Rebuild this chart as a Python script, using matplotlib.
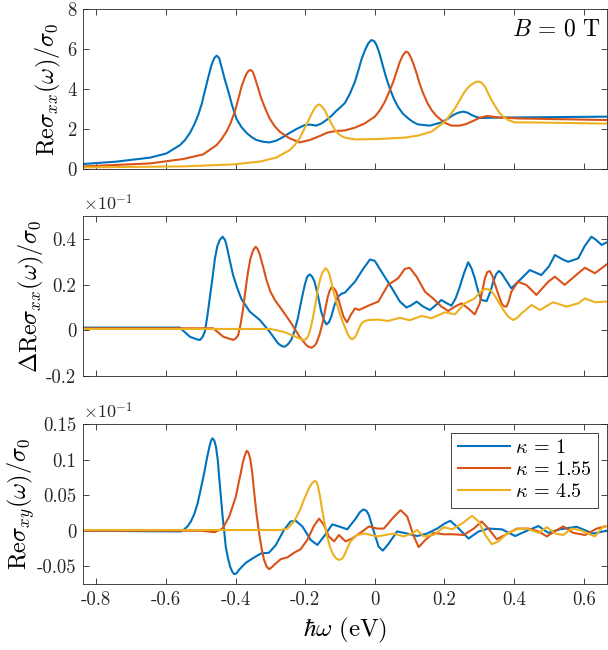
import matplotlib
matplotlib.use("Agg")
import matplotlib.pyplot as plt

plt.rcParams['mathtext.fontset'] = 'cm'
plt.rcParams['font.family'] = 'cmr10'
plt.rcParams['axes.unicode_minus'] = False

# MATLAB default colours
blue, red, yellow = '#0072BD', '#D95319', '#EDB120'
labels = [r'$\kappa\,=\,1$', r'$\kappa\,=\,1.55$', r'$\kappa\,=\,4.5$']

# ---- panel 1: Re sigma_xx / sigma_0 ----
xx_blue_x = [-0.837, -0.741, -0.645, -0.598, -0.559, -0.545, -0.531, -0.519, -0.507, -0.497,
             -0.488, -0.478, -0.469, -0.461, -0.454, -0.447, -0.440, -0.431, -0.421, -0.410,
             -0.397, -0.383, -0.368, -0.354, -0.340, -0.320, -0.302, -0.283, -0.263, -0.245,
             -0.225, -0.201, -0.185, -0.168, -0.153, -0.139, -0.125, -0.111, -0.098, -0.086,
             -0.072, -0.057, -0.047, -0.038, -0.028, -0.019, -0.010, -0.002, 0.005, 0.014,
             0.024, 0.033, 0.043, 0.055, 0.067, 0.080, 0.096, 0.110, 0.124, 0.158,
             0.191, 0.210, 0.225, 0.240, 0.254, 0.266, 0.278, 0.292, 0.306, 0.344, 0.666]
xx_blue_y = [0.25, 0.37, 0.57, 0.78, 1.2, 1.45, 1.8, 2.2, 2.7, 3.25,
             3.9, 4.6, 5.2, 5.55, 5.67, 5.55, 5.1, 4.5, 3.9, 3.2,
             2.5, 2.1, 1.8, 1.6, 1.45, 1.36, 1.33, 1.42, 1.6, 1.8,
             2.0, 2.2, 2.22, 2.17, 2.28, 2.45, 2.65, 2.9, 3.1, 3.3,
             3.75, 4.37, 4.95, 5.5, 5.95, 6.28, 6.45, 6.4, 6.2, 5.75,
             5.1, 4.55, 4.03, 3.5, 3.1, 2.78, 2.53, 2.35, 2.23, 2.17,
             2.33, 2.52, 2.7, 2.82, 2.87, 2.82, 2.7, 2.6, 2.55, 2.57, 2.62]

xx_red_x = [-0.837, -0.645, -0.550, -0.493, -0.454, -0.440, -0.426, -0.414, -0.402, -0.392,
            -0.383, -0.375, -0.368, -0.362, -0.356, -0.350, -0.345, -0.336, -0.326, -0.314,
            -0.302, -0.288, -0.273, -0.258, -0.244, -0.216, -0.187, -0.158, -0.135, -0.111,
            -0.086, -0.057, -0.029, 0.0, 0.015, 0.029, 0.041, 0.053, 0.063, 0.072,
            0.081, 0.089, 0.096, 0.103, 0.111, 0.120, 0.129, 0.139, 0.151, 0.163,
            0.177, 0.191, 0.205, 0.220, 0.244, 0.262, 0.278, 0.300, 0.321, 0.338,
            0.354, 0.411, 0.666]
xx_red_y = [0.13, 0.28, 0.5, 0.73, 1.2, 1.5, 1.87, 2.3, 2.87, 3.5,
            4.1, 4.5, 4.78, 4.92, 4.95, 4.85, 4.6, 4.1, 3.53, 3.0,
            2.53, 2.15, 1.87, 1.68, 1.53, 1.33, 1.45, 1.65, 1.83, 1.9,
            1.93, 2.07, 2.28, 2.62, 2.95, 3.37, 3.85, 4.37, 4.9, 5.37,
            5.7, 5.87, 5.82, 5.6, 5.25, 4.78, 4.25, 3.78, 3.3, 2.95,
            2.65, 2.45, 2.28, 2.17, 2.17, 2.25, 2.37, 2.55, 2.65, 2.62,
            2.58, 2.53, 2.45]

xx_yel_x = [-0.837, -0.550, -0.407, -0.330, -0.283, -0.244, -0.230, -0.216, -0.204, -0.192,
            -0.182, -0.173, -0.166, -0.160, -0.153, -0.144, -0.135, -0.125, -0.116, -0.106,
            -0.096, -0.086, -0.057, 0.010, 0.086, 0.124, 0.163, 0.201, 0.215, 0.230,
            0.244, 0.258, 0.270, 0.282, 0.291, 0.300, 0.308, 0.316, 0.325, 0.335,
            0.347, 0.359, 0.371, 0.383, 0.402, 0.450, 0.666]
xx_yel_y = [0.08, 0.13, 0.23, 0.37, 0.57, 0.95, 1.2, 1.53, 1.95, 2.37,
            2.75, 3.03, 3.18, 3.23, 3.15, 2.95, 2.62, 2.28, 2.0, 1.78,
            1.65, 1.57, 1.48, 1.5, 1.57, 1.67, 1.87, 2.37, 2.68, 3.03,
            3.45, 3.87, 4.12, 4.28, 4.36, 4.37, 4.3, 4.12, 3.8, 3.45,
            3.1, 2.78, 2.58, 2.45, 2.33, 2.33, 2.27]

# ---- panel 2: Delta Re sigma_xx / sigma_0 (x 10^-1) ----
dxx_blue_x = [-0.837, -0.560, -0.531, -0.510, -0.502, -0.495, -0.488, -0.481, -0.474, -0.466,
              -0.459, -0.452, -0.445, -0.437, -0.430, -0.426, -0.417, -0.407, -0.395, -0.383,
              -0.359, -0.330, -0.302, -0.278, -0.268, -0.259, -0.250, -0.240, -0.231, -0.221,
              -0.211, -0.201, -0.194, -0.187, -0.180, -0.173, -0.163, -0.154, -0.146, -0.139,
              -0.132, -0.125, -0.116, -0.106, -0.096, -0.086, -0.057, -0.033, -0.014, 0.0,
              0.019, 0.048, 0.072, 0.091, 0.105, 0.120, 0.139, 0.158, 0.175, 0.191,
              0.205, 0.220, 0.232, 0.244, 0.256, 0.268, 0.278, 0.287, 0.296, 0.306,
              0.321, 0.332, 0.340, 0.348, 0.356, 0.364, 0.373, 0.392, 0.416, 0.445,
              0.478, 0.500, 0.517, 0.540, 0.555, 0.584, 0.603, 0.622, 0.636, 0.651, 0.666]
dxx_blue_y = [0.012, 0.012, -0.028, -0.040, -0.042, -0.03, -0.006, 0.06, 0.14, 0.23,
              0.315, 0.37, 0.396, 0.41, 0.395, 0.374, 0.31, 0.242, 0.185, 0.137,
              0.082, 0.045, -0.006, -0.057, -0.068, -0.072, -0.062, -0.042, -0.005, 0.053,
              0.13, 0.2, 0.235, 0.245, 0.235, 0.213, 0.15, 0.082, 0.045, 0.026,
              0.035, 0.06, 0.11, 0.147, 0.16, 0.165, 0.213, 0.27, 0.31, 0.304,
              0.257, 0.187, 0.126, 0.1, 0.11, 0.126, 0.104, 0.089, 0.11, 0.133,
              0.12, 0.108, 0.14, 0.191, 0.25, 0.298, 0.27, 0.228, 0.175, 0.133,
              0.128, 0.17, 0.213, 0.245, 0.26, 0.25, 0.228, 0.184, 0.22, 0.264,
              0.242, 0.28, 0.33, 0.31, 0.3, 0.315, 0.37, 0.41, 0.395, 0.374, 0.385]

dxx_red_x = [-0.837, -0.464, -0.435, -0.407, -0.399, -0.392, -0.385, -0.378, -0.371, -0.364,
             -0.357, -0.349, -0.342, -0.336, -0.330, -0.321, -0.311, -0.300, -0.287, -0.263,
             -0.240, -0.216, -0.197, -0.190, -0.182, -0.175, -0.168, -0.158, -0.149, -0.142,
             -0.135, -0.130, -0.125, -0.118, -0.111, -0.104, -0.097, -0.090, -0.080, -0.068,
             -0.057, -0.045, -0.030, -0.014, 0.010, 0.038, 0.067, 0.086, 0.100, 0.120,
             0.144, 0.167, 0.191, 0.211, 0.230, 0.249, 0.268, 0.287, 0.301, 0.309,
             0.316, 0.323, 0.330, 0.337, 0.344, 0.354, 0.364, 0.371, 0.378, 0.385,
             0.392, 0.411, 0.435, 0.464, 0.498, 0.517, 0.545, 0.584, 0.603, 0.632, 0.666]
dxx_red_y = [0.009, 0.009, -0.028, -0.042, -0.035, -0.02, 0.03, 0.096, 0.18, 0.257,
             0.315, 0.352, 0.366, 0.355, 0.33, 0.28, 0.22, 0.17, 0.133, 0.082,
             0.031, -0.028, -0.064, -0.072, -0.076, -0.07, -0.057, -0.015, 0.038, 0.095,
             0.147, 0.172, 0.187, 0.185, 0.17, 0.135, 0.096, 0.06, 0.035, 0.07,
             0.096, 0.089, 0.1, 0.111, 0.126, 0.199, 0.228, 0.269, 0.274, 0.235,
             0.169, 0.14, 0.104, 0.085, 0.104, 0.118, 0.096, 0.07, 0.118, 0.175,
             0.228, 0.255, 0.26, 0.24, 0.206, 0.16, 0.118, 0.105, 0.104, 0.13,
             0.169, 0.213, 0.199, 0.155, 0.213, 0.235, 0.199, 0.25, 0.274, 0.25, 0.289]

dxx_yel_x = [-0.837, -0.300, -0.263, -0.235, -0.206, -0.199, -0.192, -0.185, -0.178, -0.170,
             -0.163, -0.156, -0.149, -0.141, -0.135, -0.130, -0.123, -0.116, -0.108, -0.101,
             -0.093, -0.086, -0.077, -0.071, -0.065, -0.059, -0.053, -0.045, -0.038, -0.028,
             -0.019, 0.010, 0.038, 0.072, 0.100, 0.134, 0.163, 0.201, 0.230, 0.258,
             0.287, 0.301, 0.316, 0.326, 0.335, 0.347, 0.359, 0.371, 0.383, 0.397,
             0.409, 0.421, 0.450, 0.474, 0.512, 0.550, 0.584, 0.603, 0.632, 0.666]
dxx_yel_y = [0.006, 0.006, -0.006, -0.023, -0.042, -0.04, -0.028, 0.005, 0.053, 0.12,
             0.184, 0.23, 0.257, 0.272, 0.262, 0.242, 0.2, 0.155, 0.11, 0.074,
             0.04, 0.014, -0.02, -0.033, -0.039, -0.033, -0.02, 0.01, 0.031, 0.041,
             0.045, 0.047, 0.041, 0.055, 0.044, 0.063, 0.053, 0.079, 0.07, 0.118,
             0.14, 0.165, 0.181, 0.18, 0.172, 0.145, 0.114, 0.085, 0.06, 0.045,
             0.055, 0.074, 0.111, 0.089, 0.123, 0.104, 0.118, 0.14, 0.123, 0.126]

# ---- panel 3: Re sigma_xy / sigma_0 (x 10^-1) ----
xy_blue_x = [-0.837, -0.557, -0.547, -0.538, -0.528, -0.518, -0.509, -0.500, -0.490, -0.482,
             -0.475, -0.470, -0.466, -0.461, -0.456, -0.451, -0.447, -0.442, -0.437, -0.432,
             -0.428, -0.421, -0.415, -0.409, -0.404, -0.397, -0.390, -0.370, -0.351, -0.327,
             -0.304, -0.284, -0.261, -0.242, -0.227, -0.208, -0.184, -0.165, -0.146, -0.122,
             -0.103, -0.079, -0.055, -0.043, -0.033, -0.024, -0.017, -0.003, 0.011, 0.023,
             0.040, 0.064, 0.093, 0.121, 0.150, 0.179, 0.200, 0.217, 0.241, 0.269,
             0.298, 0.326, 0.365, 0.403, 0.432, 0.470, 0.498, 0.532, 0.579, 0.627, 0.666]
xy_blue_y = [0.0, -0.001, 0.002, 0.006, 0.013, 0.024, 0.038, 0.058, 0.081, 0.102,
             0.118, 0.127, 0.13, 0.127, 0.118, 0.1, 0.076, 0.048, 0.02, -0.003,
             -0.0225, -0.04, -0.051, -0.058, -0.061, -0.06, -0.055, -0.045, -0.039, -0.032,
             -0.031, -0.02, 0.001, 0.013, 0.014, 0.006, -0.013, -0.02, -0.008, 0.009,
             0.006, 0.002, 0.017, 0.026, 0.03, 0.028, 0.022, -0.001, -0.0225, -0.028,
             -0.018, -0.001, -0.004, -0.0075, -0.004, 0.003, 0.01, 0.014, 0.003, -0.011,
             -0.001, 0.003, 0.002, -0.0075, -0.001, 0.0066, -0.003, 0.002, 0.0056, -0.004, 0.0]

xy_red_x = [-0.837, -0.500, -0.460, -0.437, -0.418, -0.399, -0.392, -0.385, -0.379, -0.373,
            -0.368, -0.363, -0.358, -0.352, -0.347, -0.340, -0.332, -0.325, -0.318, -0.311,
            -0.304, -0.297, -0.289, -0.270, -0.251, -0.232, -0.213, -0.194, -0.175, -0.160,
            -0.146, -0.132, -0.117, -0.103, -0.084, -0.065, -0.036, -0.017, 0.007, 0.026,
            0.050, 0.074, 0.093, 0.112, 0.126, 0.145, 0.169, 0.198, 0.226, 0.255,
            0.284, 0.307, 0.326, 0.350, 0.374, 0.408, 0.441, 0.470, 0.494, 0.523,
            0.541, 0.570, 0.604, 0.637, 0.666]
xy_red_y = [0.0, 0.0, -0.002, 0.003, 0.02, 0.048, 0.065, 0.081, 0.096, 0.106,
            0.1125, 0.11, 0.102, 0.082, 0.057, 0.025, -0.004, -0.025, -0.041, -0.05,
            -0.054, -0.052, -0.048, -0.04, -0.0375, -0.031, -0.026, -0.013, 0.0066, 0.017,
            0.008, -0.008, -0.015, -0.006, -0.015, -0.011, -0.001, 0.006, 0.003, 0.003,
            0.017, 0.029, 0.02, -0.008, -0.023, -0.013, -0.003, -0.005, -0.005, -0.006,
            0.003, 0.013, 0.003, -0.012, -0.006, 0.003, 0.003, -0.001, -0.008, 0.001,
            0.006, -0.003, -0.006, 0.003, 0.0066]

xy_yel_x = [-0.837, -0.270, -0.251, -0.232, -0.213, -0.205, -0.196, -0.188, -0.180, -0.172,
            -0.168, -0.164, -0.158, -0.151, -0.144, -0.137, -0.128, -0.119, -0.111, -0.103,
            -0.096, -0.089, -0.080, -0.070, -0.051, -0.027, 0.007, 0.031, 0.054, 0.083,
            0.107, 0.121, 0.140, 0.169, 0.198, 0.222, 0.250, 0.279, 0.298, 0.317,
            0.336, 0.355, 0.379, 0.408, 0.436, 0.470, 0.494, 0.518, 0.541, 0.565,
            0.589, 0.608, 0.632, 0.656, 0.666]
xy_yel_y = [0.001, 0.001, 0.003, 0.013, 0.031, 0.042, 0.052, 0.061, 0.067, 0.07,
            0.069, 0.064, 0.05, 0.029, 0.01, -0.008, -0.024, -0.034, -0.039, -0.041,
            -0.04, -0.036, -0.026, -0.015, -0.006, -0.004, -0.008, -0.006, -0.004, -0.008,
            -0.004, 0.001, -0.008, -0.006, 0.005, 0.002, 0.01, 0.021, 0.013, -0.006,
            -0.019, -0.015, -0.004, 0.002, 0.003, -0.003, 0.005, -0.004, -0.006, 0.003,
            0.001, -0.003, -0.008, 0.006, 0.0066]

xticks = [-0.8, -0.6, -0.4, -0.2, 0, 0.2, 0.4, 0.6]
xticklabels = ['-0.8', '-0.6', '-0.4', '-0.2', '0', '0.2', '0.4', '0.6']

fig = plt.figure(figsize=(6.08, 6.5), dpi=100)
left, width, height = 0.137, 0.861, 0.246
ax1 = fig.add_axes([left, 0.740, width, height])
ax2 = fig.add_axes([left, 0.4215, width, height])
ax3 = fig.add_axes([left, 0.1015, width, height])

lw = 1.5
ax1.plot(xx_blue_x, xx_blue_y, color=blue, lw=lw)
ax1.plot(xx_red_x, xx_red_y, color=red, lw=lw)
ax1.plot(xx_yel_x, xx_yel_y, color=yellow, lw=lw)

ax2.plot(dxx_blue_x, dxx_blue_y, color=blue, lw=lw)
ax2.plot(dxx_red_x, dxx_red_y, color=red, lw=lw)
ax2.plot(dxx_yel_x, dxx_yel_y, color=yellow, lw=lw)

ax3.plot(xy_blue_x, xy_blue_y, color=blue, lw=lw, label=labels[0])
ax3.plot(xy_red_x, xy_red_y, color=red, lw=lw, label=labels[1])
ax3.plot(xy_yel_x, xy_yel_y, color=yellow, lw=lw, label=labels[2])

ax1.set_ylim(0, 8)
ax1.set_yticks([0, 2, 4, 6, 8])
ax1.set_yticklabels(['0', '2', '4', '6', '8'])
ax2.set_ylim(-0.2, 0.5)
ax2.set_yticks([-0.2, 0, 0.2, 0.4])
ax2.set_yticklabels(['-0.2', '0', '0.2', '0.4'])
ax3.set_ylim(-0.075, 0.15)
ax3.set_yticks([-0.05, 0, 0.05, 0.1, 0.15])
ax3.set_yticklabels(['-0.05', '0', '0.05', '0.1', '0.15'])

edge = '#262626'
for ax in (ax1, ax2, ax3):
    ax.set_xlim(-0.837, 0.666)
    ax.set_xticks(xticks)
    ax.tick_params(direction='in', top=True, right=True, length=4, width=0.6,
                   colors=edge, labelsize=13.5, labelcolor='#262626', pad=5)
    for s in ax.spines.values():
        s.set_color(edge)
        s.set_linewidth(0.6)
ax1.set_xticklabels([])
ax2.set_xticklabels([])
ax3.set_xticklabels(xticklabels)

ax1.set_ylabel(r'$\mathrm{Re}\sigma_{xx}(\omega)/\sigma_0$', fontsize=17.5, labelpad=3)
ax2.set_ylabel(r'$\Delta\mathrm{Re}\sigma_{xx}(\omega)/\sigma_0$', fontsize=17.5, labelpad=0)
ax3.set_ylabel(r'$\mathrm{Re}\sigma_{xy}(\omega)/\sigma_0$', fontsize=17.5, labelpad=0)
ax3.set_xlabel(r'$\hbar\omega\ \mathrm{(eV)}$', fontsize=18, labelpad=5)

for ax in (ax2, ax3):
    ax.text(0.0, 1.015, r'$\times10^{-1}$', transform=ax.transAxes,
            ha='left', va='bottom', fontsize=13, color='#262626')

ax1.text(0.988, 0.875, r'$B\,=\,0\ \mathrm{T}$', transform=ax1.transAxes,
         ha='right', va='center', fontsize=17)

leg = ax3.legend(loc='upper right', bbox_to_anchor=(0.983, 0.944), fontsize=14.5,
                 handlelength=2.6, handletextpad=0.25, borderpad=0.3,
                 labelspacing=0.2, borderaxespad=0, fancybox=False, framealpha=1)
leg.get_frame().set_edgecolor(edge)
leg.get_frame().set_linewidth(0.6)

fig.savefig('out.png', dpi=100)
